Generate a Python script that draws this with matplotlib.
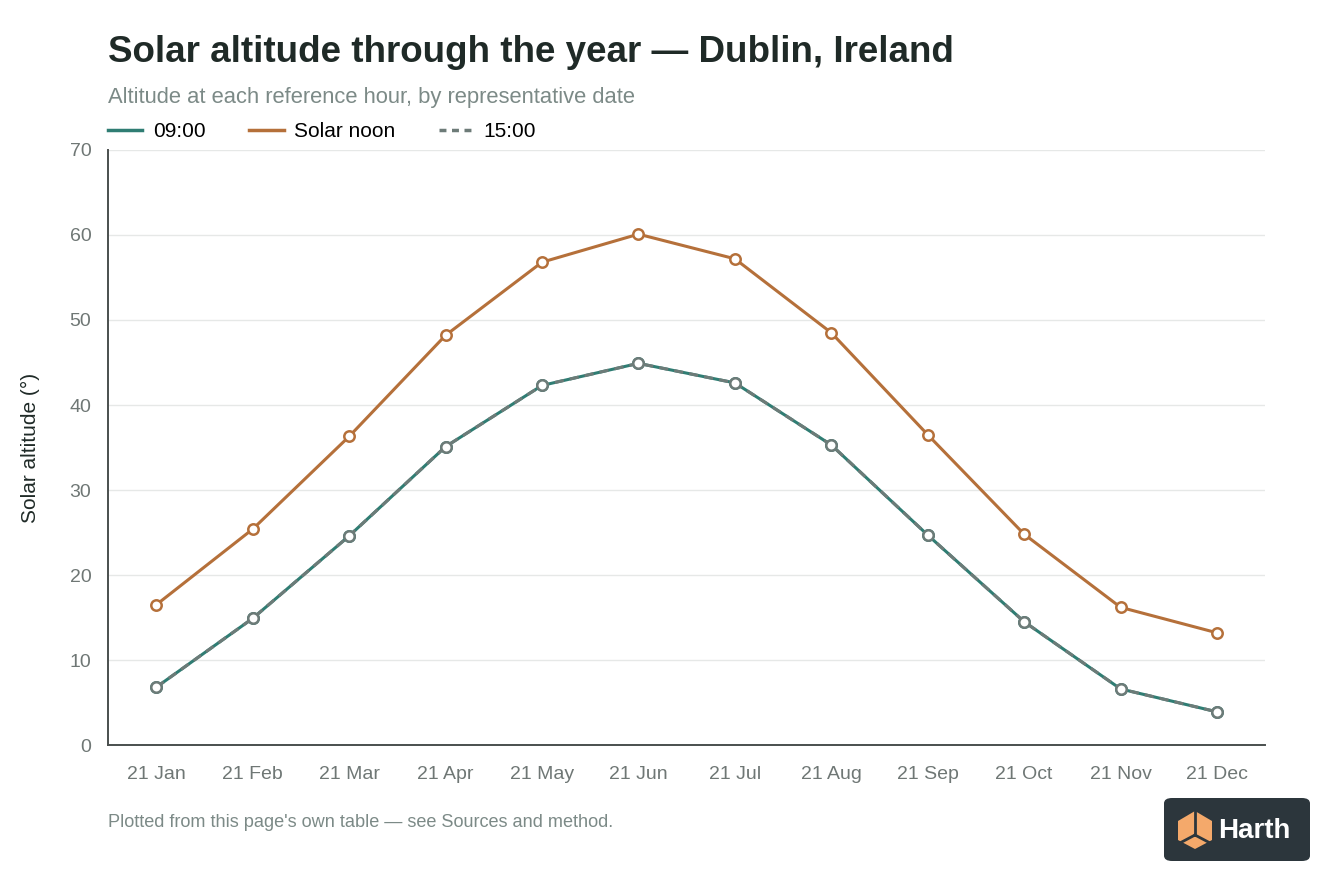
import numpy as np
import matplotlib.pyplot as plt
from matplotlib.patches import FancyBboxPatch, Polygon
from matplotlib.lines import Line2D

plt.rcParams['font.family'] = ['Liberation Sans', 'DejaVu Sans']

# data
dates = ['21 Jan', '21 Feb', '21 Mar', '21 Apr', '21 May', '21 Jun',
         '21 Jul', '21 Aug', '21 Sep', '21 Oct', '21 Nov', '21 Dec']
alt_0900 = [6.8, 14.9, 24.6, 35.1, 42.3, 44.9, 42.6, 35.3, 24.7, 14.5, 6.6, 3.9]
alt_noon = [16.5, 25.4, 36.3, 48.2, 56.8, 60.1, 57.2, 48.5, 36.5, 24.8, 16.2, 13.2]
alt_1500 = [6.8, 14.9, 24.6, 35.1, 42.3, 44.9, 42.6, 35.3, 24.7, 14.5, 6.6, 3.9]

teal = '#2f7d73'
copper = '#b5703a'
grey = '#6d7b78'
dark = '#1f2a27'
muted = '#7c8a87'

fig = plt.figure(figsize=(13.44, 8.96), dpi=100)
ax = fig.add_axes([0.0804, 0.1685, 0.8610, 0.6641])

x = np.arange(len(dates))
ax.plot(x, alt_0900, color=teal, lw=2.2, marker='o', ms=7.5, mfc='white',
        mec=teal, mew=1.8, zorder=3)
ax.plot(x, alt_noon, color=copper, lw=2.2, marker='o', ms=7.5, mfc='white',
        mec=copper, mew=1.8, zorder=3)
ax.plot(x, alt_1500, color=grey, lw=2.2, ls=(0, (3, 2)), marker='o', ms=7.5,
        mfc='white', mec=grey, mew=1.8, zorder=4)

ax.set_xlim(-0.5, len(dates) - 0.5)
ax.set_ylim(0, 70)
ax.set_yticks(range(0, 71, 10))
ax.set_xticks(x)
ax.set_xticklabels(dates)
ax.tick_params(length=0, labelsize=14, labelcolor='#6f7775')
ax.tick_params(axis='x', pad=15)
ax.tick_params(axis='y', pad=12)
ax.grid(axis='y', color='#e6e8e7', lw=1)
ax.set_axisbelow(True)
for s in ['top', 'right']:
    ax.spines[s].set_visible(False)
for s in ['left', 'bottom']:
    ax.spines[s].set_color('#4a4f4e')
    ax.spines[s].set_linewidth(1.4)

ax.set_ylabel('Solar altitude (°)', fontsize=15, color=dark)
ax.yaxis.set_label_coords(-0.059, 0.5)

# titles
fig.text(0.0804, 0.941, 'Solar altitude through the year — Dublin, Ireland',
         fontsize=26.5, fontweight='bold', color=dark, va='center')
fig.text(0.0804, 0.891, 'Altitude at each reference hour, by representative date',
         fontsize=15.8, color=muted, va='center')

# legend
handles = [Line2D([], [], color=teal, lw=2.5),
           Line2D([], [], color=copper, lw=2.5),
           Line2D([], [], color=grey, lw=2.5, ls=(0, (2, 1.6)))]
fig.legend(handles, ['09:00', 'Solar noon', '15:00'], loc='center left',
           bbox_to_anchor=(0.0804, 0.853), ncol=3, frameon=False, fontsize=15,
           handlelength=1.65, handletextpad=0.5, columnspacing=2.1,
           borderpad=0, borderaxespad=0)

fig.text(0.0804, 0.082, "Plotted from this page's own table — see Sources and method.",
         fontsize=13.1, color=muted, va='center')

# logo badge
W, H = 1344, 896
box = FancyBboxPatch((1164 / W, 1 - 861 / H), 146 / W, 63 / H,
                     boxstyle='round,pad=0,rounding_size=0.006',
                     transform=fig.transFigure, fc='#2c363c', ec='none')
fig.patches.append(box)
cx, cy = 1195, 830
hexpts = [(cx, cy - 19), (cx + 17, cy - 9), (cx + 17, cy + 10), (cx, cy + 19),
          (cx - 17, cy + 10), (cx - 17, cy - 9)]
cube = Polygon([(px / W, 1 - py / H) for px, py in hexpts], closed=True,
               transform=fig.transFigure, fc='#f4a96b', ec='none')
fig.patches.append(cube)
for (x0, y0), (x1, y1) in [((cx, cy - 19), (cx, cy + 5)),
                           ((cx, cy + 5), (cx - 17, cy + 14)),
                           ((cx, cy + 5), (cx + 17, cy + 14))]:
    fig.lines.append(Line2D([x0 / W, x1 / W], [1 - y0 / H, 1 - y1 / H],
                            transform=fig.transFigure, color='#2c363c', lw=2))
fig.text(1218 / W, 1 - 831 / H, 'Harth', fontsize=20, fontweight='bold',
         color='white', va='center', ha='left')

fig.savefig('out.png', dpi=100, facecolor='white')
